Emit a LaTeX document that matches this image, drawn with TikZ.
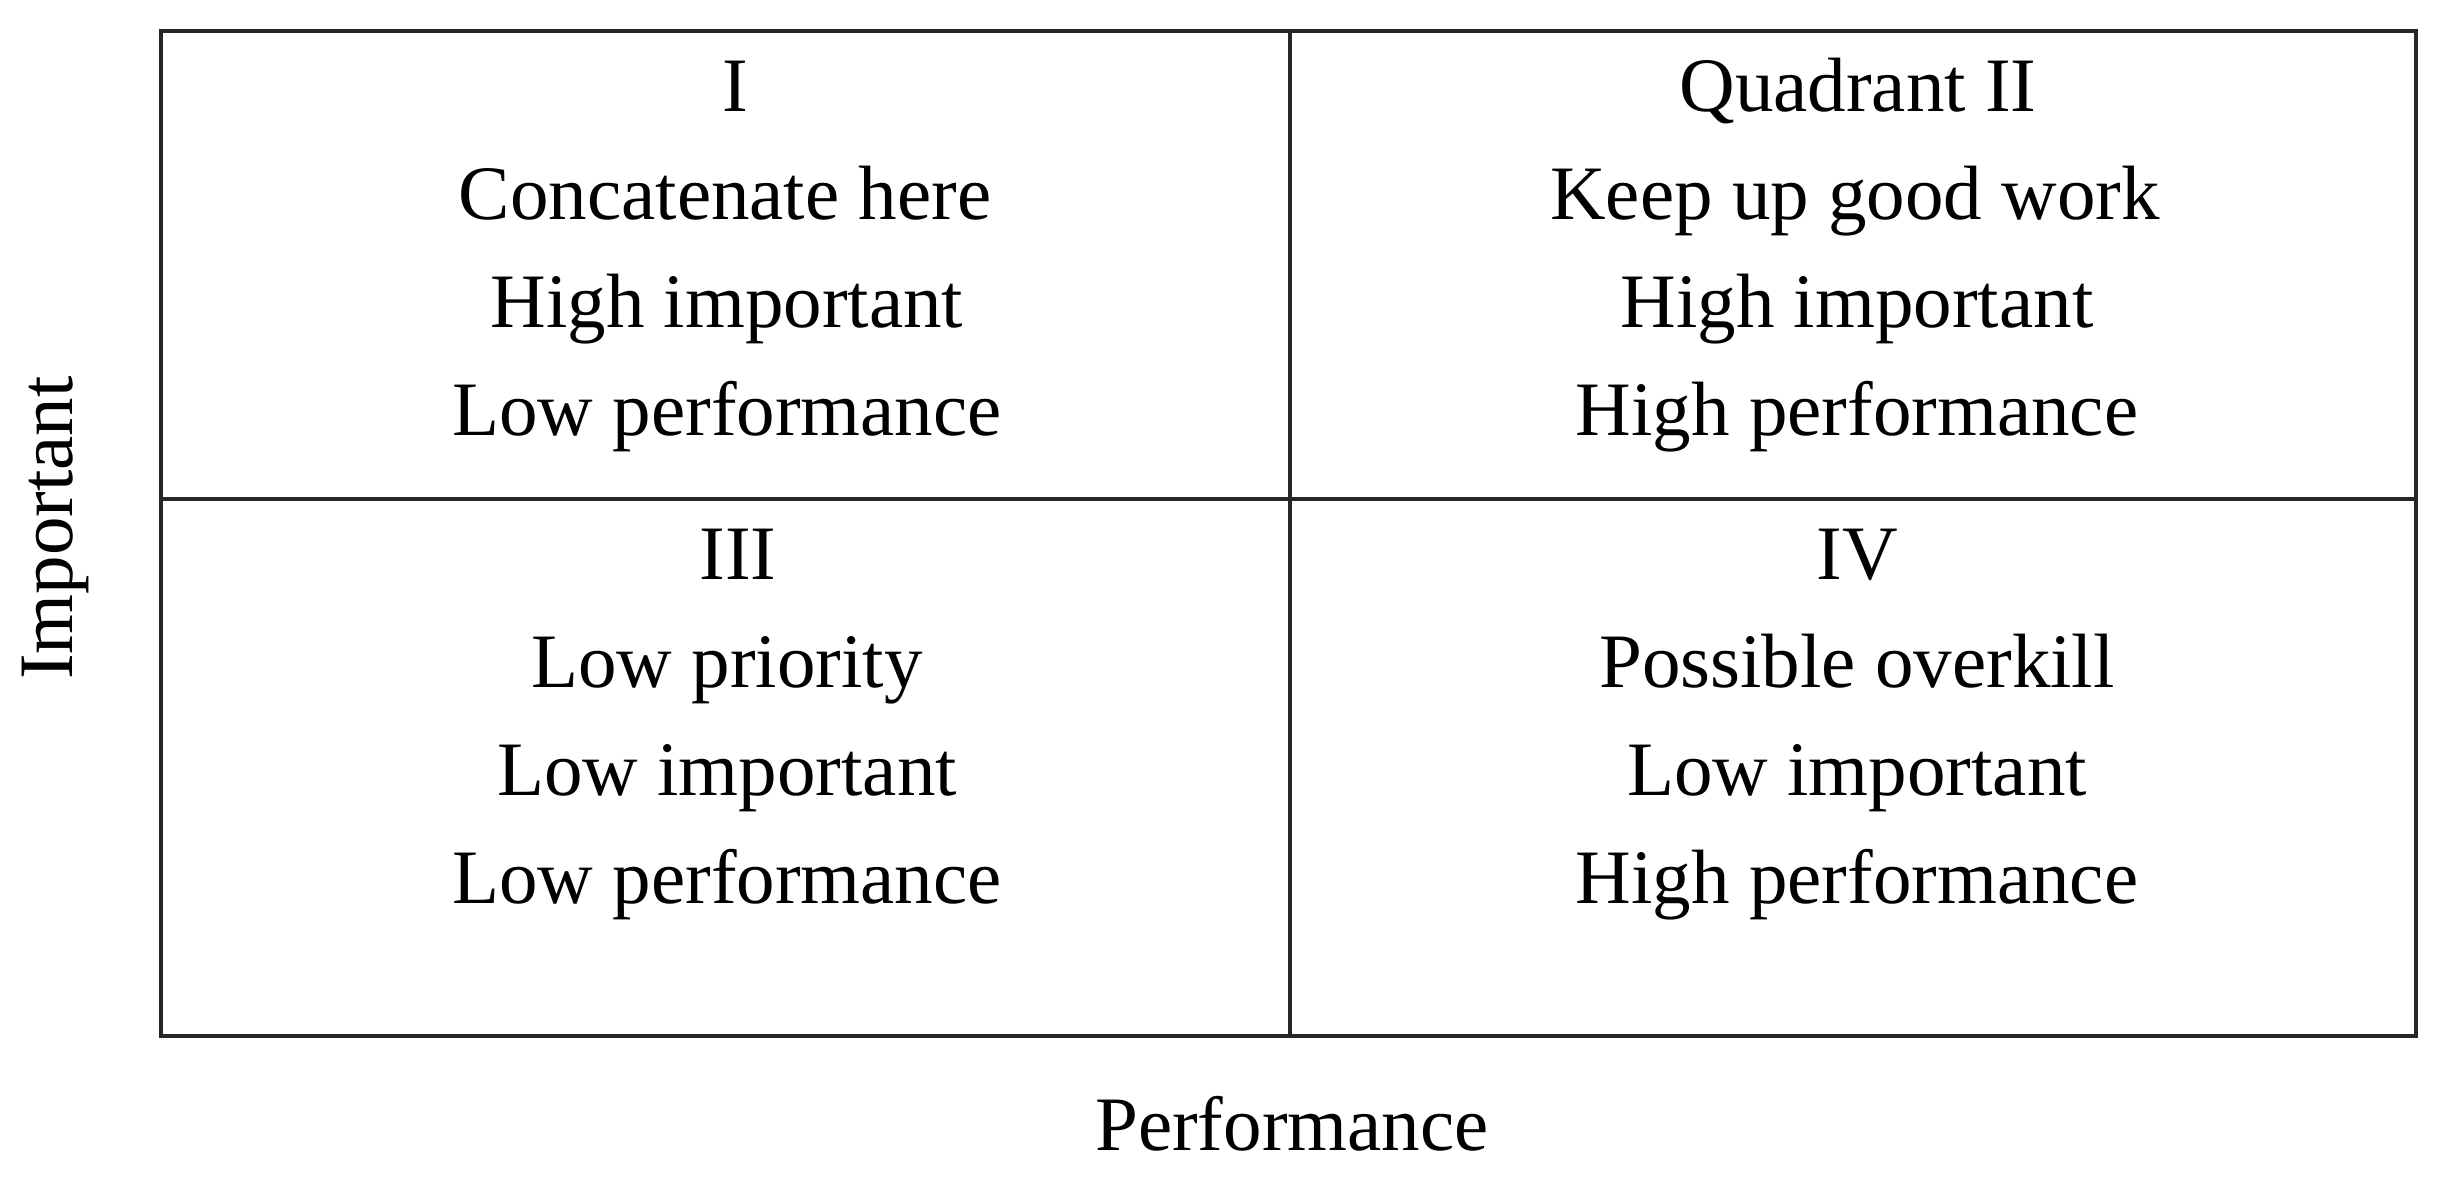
\documentclass[tikz,border=0pt]{standalone}
\usepackage{fontspec}
\setmainfont{Liberation Serif}
\begin{document}
\begin{tikzpicture}[x=1bp,y=-1bp,
  grid/.style={draw=black!85,line width=4bp},
  qtext/.style={anchor=base,inner sep=0pt,font=\fontsize{77bp}{108bp}\selectfont},
  axis/.style={inner sep=0pt,font=\fontsize{77bp}{108bp}\selectfont}]
\useasboundingbox (0,0) rectangle (2448,1176);
\coordinate (tl) at (161,31);
\coordinate (br) at (2416,1036);
\coordinate (mt) at (1290,31);
\coordinate (mb) at (1290,1036);
\coordinate (ml) at (161,499);
\coordinate (mr) at (2416,499);
\draw[grid] (tl) rectangle (br);
\draw[grid] (mt) -- (mb);
\draw[grid] (ml) -- (mr);
% Quadrant I
\node[qtext] (q1a) at (735,111) {I};
\node[qtext] (q1b) at (725,219) {Concatenate here};
\node[qtext] (q1c) at (727,327) {High important};
\node[qtext] (q1d) at (727,435) {Low performance};
% Quadrant II
\node[qtext] (q2a) at (1858,111) {Quadrant II};
\node[qtext] (q2b) at (1855,219) {Keep up good work};
\node[qtext] (q2c) at (1857,327) {High important};
\node[qtext] (q2d) at (1857,435) {High performance};
% Quadrant III
\node[qtext] (q3a) at (738,579) {III};
\node[qtext] (q3b) at (727,687) {Low priority};
\node[qtext] (q3c) at (727,795) {Low important};
\node[qtext] (q3d) at (727,903) {Low performance};
% Quadrant IV
\node[qtext] (q4a) at (1857,579) {IV};
\node[qtext] (q4b) at (1857,687) {Possible overkill};
\node[qtext] (q4c) at (1857,795) {Low important};
\node[qtext] (q4d) at (1857,903) {High performance};
% Axes
\node[axis,rotate=90] (imp) at (55,528) {Important};
\node[axis] (perf) at (1292,1124) {Performance};
\end{tikzpicture}
\end{document}
